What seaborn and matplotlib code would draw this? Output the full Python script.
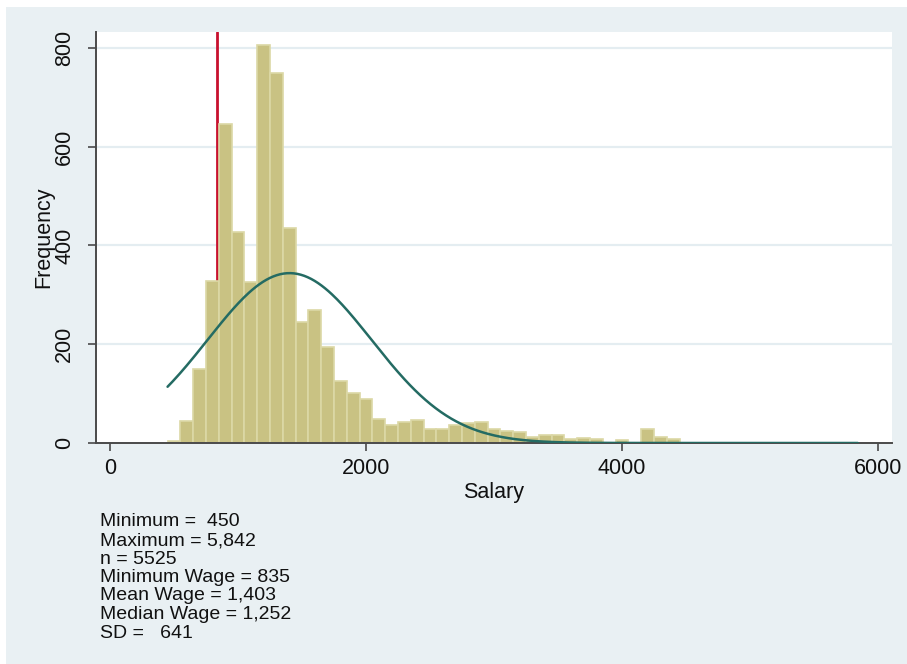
import numpy as np
import pandas as pd
import matplotlib
matplotlib.use("Agg")
import matplotlib.pyplot as plt
from matplotlib.patches import Rectangle
import seaborn as sns

# Salary histogram: bins of width 100 starting at the minimum salary
bin_start = 450
bin_width = 100
counts = [5, 44, 150, 327, 646, 427, 326, 805, 749, 435,
          245, 270, 194, 125, 101, 89, 49, 37, 42, 47,
          29, 29, 36, 40, 43, 28, 25, 22, 13, 17,
          16, 8, 10, 9, 1, 6, 0, 28, 13, 8,
          0, 0, 0, 0, 0, 0, 0, 0, 0, 0,
          0, 0, 0, 0]

# Summary statistics shown under the chart
min_salary = 450
max_salary = 5842
n_obs = 5525
minimum_wage = 835
mean_wage = 1403
median_wage = 1252
sd_wage = 641

x_ticks = [0, 2000, 4000, 6000]
y_ticks = [0, 200, 400, 600, 800]

note_lines = [
    f"Minimum =  {min_salary}",
    f"Maximum = {max_salary:,}",
    f"n = {n_obs}",
    f"Minimum Wage = {minimum_wage}",
    f"Mean Wage = {mean_wage:,}",
    f"Median Wage = {median_wage:,}",
    f"SD =   {sd_wage}",
]

sns.set_theme(style="white")
plt.rcParams["font.family"] = ["Liberation Sans", "DejaVu Sans"]

W, H = 907, 664
fig = plt.figure(figsize=(W / 100, H / 100), dpi=100)
fig.patch.set_facecolor("white")
panel_bg = "#e9f0f3"
fig.add_artist(Rectangle((6 / W, 0), 1 - 6 / W, 1 - 7 / H,
                         transform=fig.transFigure, facecolor=panel_bg,
                         edgecolor="none", zorder=-10))

ax = fig.add_axes([96 / W, 1 - 443 / H, (892 - 96) / W, (443 - 32) / H])
ax.set_facecolor("white")

edges = [float(bin_start + bin_width * i) for i in range(len(counts) + 1)]
centers = [e + bin_width / 2 for e in edges[:-1]]
df = pd.DataFrame({"salary": centers, "count": counts})

# minimum wage reference line, behind the bars
ax.axvline(minimum_wage, color="#c8102e", lw=2.0, zorder=1)

sns.histplot(data=df, x="salary", weights="count", bins=edges, ax=ax,
             color="#c9c283", edgecolor="#dcd8a6", linewidth=1.2,
             alpha=1.0, zorder=2)

# normal density scaled to frequency per bin
xs = np.linspace(min_salary, max_salary, 400)
dens = n_obs * bin_width * np.exp(-0.5 * ((xs - mean_wage) / sd_wage) ** 2) / (sd_wage * np.sqrt(2 * np.pi))
sns.lineplot(x=xs, y=dens, ax=ax, color="#246b63", lw=1.8, zorder=3)

ax.set_xlim(-109, 6109)
ax.set_ylim(0, 832)
ax.set_xticks(x_ticks)
ax.set_yticks(y_ticks)
ax.set_yticklabels([str(v) for v in y_ticks], rotation=90, va="center")
for v in y_ticks[1:]:
    ax.axhline(v, color="#e4edf1", lw=1.6, zorder=0)

for s in ["top", "right"]:
    ax.spines[s].set_visible(False)
for s in ["left", "bottom"]:
    ax.spines[s].set_color("#4a4a4a")
    ax.spines[s].set_linewidth(1.4)

ax.tick_params(axis="both", which="major", direction="out", length=6,
               width=1.2, color="#4a4a4a", labelsize=15.5, labelcolor="#111111",
               left=True, bottom=True)
ax.tick_params(axis="y", pad=9)
ax.tick_params(axis="x", pad=5)

ax.set_xlabel("Salary", fontsize=15.5, color="#111111", labelpad=2)
ax.set_ylabel("Frequency", fontsize=15.5, color="#111111", labelpad=0)

y0 = 522
for i, line in enumerate(note_lines):
    fig.text(100 / W, 1 - (y0 + i * 18.5) / H, line, fontsize=14,
             color="#111111", ha="left", va="center")

fig.savefig("out.png", dpi=100)
